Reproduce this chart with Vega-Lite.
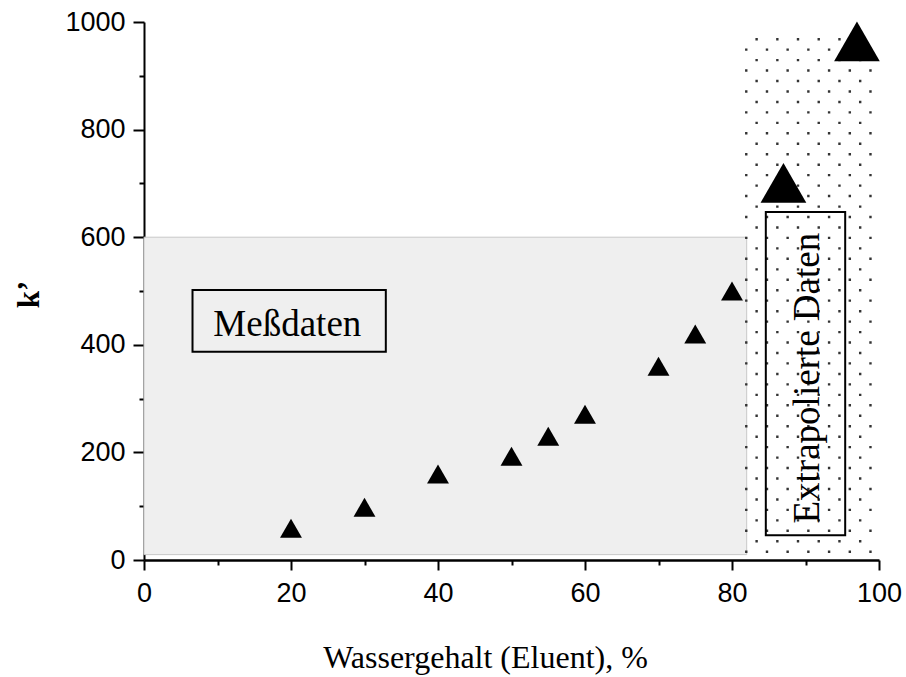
{
  "$schema": "https://vega.github.io/schema/vega-lite/v6.json",
  "autosize": "none",
  "width": 735,
  "height": 538,
  "padding": {"left": 144, "top": 22, "right": 27, "bottom": 117},
  "background": "white",
  "config": {"view": {"stroke": null}},
  "layer": [
    {
      "data": {"values": [{"from": 0, "to": 82, "low": 10, "high": 600}]},
      "mark": {"type": "rect", "fill": "#efefef", "stroke": "#c8c8c8", "strokeWidth": 1},
      "encoding": {
        "x": {"field": "from", "type": "quantitative", "scale": {"domain": [0, 100], "nice": false}},
        "x2": {"field": "to"},
        "y": {"field": "low", "type": "quantitative", "scale": {"domain": [0, 1000], "nice": false}},
        "y2": {"field": "high"}
      }
    },
    {
      "data": {"values": [
        {"col": 81.94, "low": 0, "high": 985},
        {"col": 84.76, "low": 0, "high": 985},
        {"col": 87.57, "low": 0, "high": 985},
        {"col": 90.39, "low": 0, "high": 985},
        {"col": 93.21, "low": 0, "high": 985},
        {"col": 96.03, "low": 0, "high": 985},
        {"col": 98.84, "low": 0, "high": 985}
      ]},
      "mark": {"type": "rule", "color": "#333333", "strokeWidth": 2.4, "strokeDash": [2.4, 18.52], "strokeDashOffset": 13.82, "strokeCap": "butt"},
      "encoding": {
        "x": {"field": "col", "type": "quantitative", "scale": {"domain": [0, 100], "nice": false}},
        "y": {"field": "low", "type": "quantitative", "scale": {"domain": [0, 1000], "nice": false}},
        "y2": {"field": "high"}
      }
    },
    {
      "data": {"values": [
        {"col": 83.35, "low": 0, "high": 985},
        {"col": 86.17, "low": 0, "high": 985},
        {"col": 88.98, "low": 0, "high": 985},
        {"col": 91.80, "low": 0, "high": 985},
        {"col": 94.62, "low": 0, "high": 985},
        {"col": 97.44, "low": 0, "high": 985}
      ]},
      "mark": {"type": "rule", "color": "#333333", "strokeWidth": 2.4, "strokeDash": [2.4, 18.52], "strokeDashOffset": 3.42, "strokeCap": "butt"},
      "encoding": {
        "x": {"field": "col", "type": "quantitative", "scale": {"domain": [0, 100], "nice": false}},
        "y": {"field": "low", "type": "quantitative", "scale": {"domain": [0, 1000], "nice": false}},
        "y2": {"field": "high"}
      }
    },
    {
      "data": {"values": [
        {"from": 6.6, "to": 32.9, "low": 387, "high": 502},
        {"from": 84.6, "to": 95.4, "low": 46, "high": 647}
      ]},
      "mark": {"type": "rect", "fill": null, "fillOpacity": 0, "stroke": "black", "strokeWidth": 2},
      "encoding": {
        "x": {"field": "from", "type": "quantitative", "scale": {"domain": [0, 100], "nice": false}},
        "x2": {"field": "to"},
        "y": {"field": "low", "type": "quantitative", "scale": {"domain": [0, 1000], "nice": false}},
        "y2": {"field": "high"}
      }
    },
    {
      "data": {"values": [{"x": 19.5, "y": 416, "label": "Meßdaten"}]},
      "mark": {"type": "text", "font": "Liberation Serif", "fontSize": 37, "color": "black", "align": "center", "baseline": "alphabetic"},
      "encoding": {
        "x": {"field": "x", "type": "quantitative", "scale": {"domain": [0, 100], "nice": false}},
        "y": {"field": "y", "type": "quantitative", "scale": {"domain": [0, 1000], "nice": false}},
        "text": {"field": "label"}
      }
    },
    {
      "data": {"values": [{"x": 91.9, "y": 338, "label": "Extrapolierte Daten"}]},
      "mark": {"type": "text", "font": "Liberation Serif", "fontSize": 37, "color": "black", "align": "center", "baseline": "alphabetic", "angle": 270},
      "encoding": {
        "x": {"field": "x", "type": "quantitative", "scale": {"domain": [0, 100], "nice": false}},
        "y": {"field": "y", "type": "quantitative", "scale": {"domain": [0, 1000], "nice": false}},
        "text": {"field": "label"}
      }
    },
    {
      "data": {"values": [
        {"water": 20, "k": 59, "series": "Meßdaten"},
        {"water": 30, "k": 98, "series": "Meßdaten"},
        {"water": 40, "k": 160, "series": "Meßdaten"},
        {"water": 50, "k": 193, "series": "Meßdaten"},
        {"water": 55, "k": 230, "series": "Meßdaten"},
        {"water": 60, "k": 271, "series": "Meßdaten"},
        {"water": 70, "k": 360, "series": "Meßdaten"},
        {"water": 75, "k": 420, "series": "Meßdaten"},
        {"water": 80, "k": 500, "series": "Meßdaten"},
        {"water": 87, "k": 701, "series": "Extrapoliert"},
        {"water": 97, "k": 964, "series": "Extrapoliert"}
      ]},
      "mark": {"type": "point", "shape": "triangle-up", "filled": true, "color": "black", "opacity": 1, "strokeWidth": 0},
      "encoding": {
        "x": {
          "field": "water", "type": "quantitative",
          "scale": {"domain": [0, 100], "nice": false},
          "axis": {
            "values": [0, 10, 20, 30, 40, 50, 60, 70, 80, 90, 100],
            "format": "d",
            "labelExpr": "datum.value % 20 === 0 ? datum.label : ''",
            "tickSize": {"condition": {"test": "datum.value % 20 === 0", "value": 10}, "value": 5},
            "tickWidth": 2, "tickColor": "black",
            "domainColor": "black", "domainWidth": 2.5,
            "labelFont": "Liberation Sans", "labelFontSize": 27, "labelColor": "black", "labelPadding": 10,
            "labelFlush": false, "labelOverlap": false, "grid": false,
            "title": "Wassergehalt (Eluent), %",
            "titleFont": "Liberation Serif", "titleFontSize": 32, "titleFontWeight": "normal", "titleColor": "black",
            "titleX": 341, "titleY": 107, "titleAlign": "center", "titleBaseline": "alphabetic"
          }
        },
        "y": {
          "field": "k", "type": "quantitative",
          "scale": {"domain": [0, 1000], "nice": false},
          "axis": {
            "values": [0, 100, 200, 300, 400, 500, 600, 700, 800, 900, 1000],
            "format": "d",
            "labelExpr": "datum.value % 200 === 0 ? datum.label : ''",
            "tickSize": {"condition": {"test": "datum.value % 200 === 0", "value": 11}, "value": 5},
            "tickWidth": 2, "tickColor": "black",
            "domainColor": "black", "domainWidth": 2,
            "labelFont": "Liberation Sans", "labelFontSize": 27, "labelColor": "black", "labelPadding": 8,
            "labelFlush": false, "labelOverlap": false, "grid": false,
            "title": "k’",
            "titleFont": "Liberation Serif", "titleFontSize": 31, "titleFontWeight": "bold", "titleColor": "black",
            "titleX": -106, "titleY": 272, "titleAlign": "center", "titleBaseline": "alphabetic", "titleAngle": 270
          }
        },
        "size": {
          "field": "series", "type": "nominal",
          "scale": {"domain": ["Meßdaten", "Extrapoliert"], "range": [480, 2090]},
          "legend": null
        }
      }
    }
  ]
}
